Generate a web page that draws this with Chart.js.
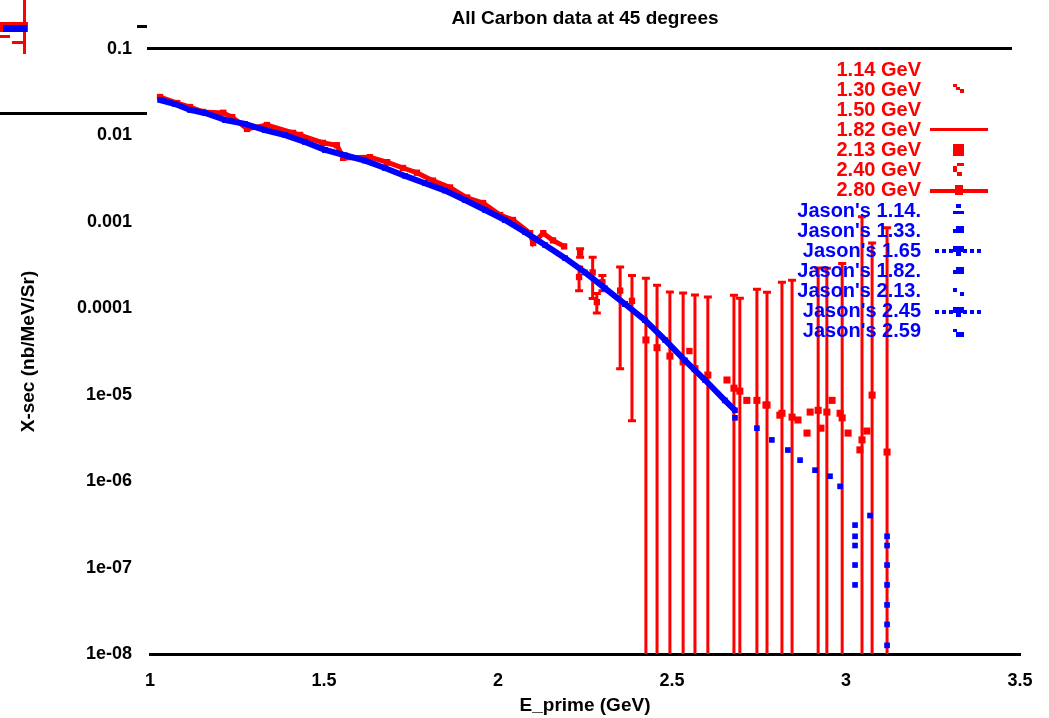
<!DOCTYPE html>
<html>
<head>
<meta charset="utf-8">
<script src="https://cdn.jsdelivr.net/npm/chart.js@4.4.0/dist/chart.umd.min.js"></script>
<style>
  body { margin: 0; background: #fff; }
  #wrap { position: relative; width: 1049px; height: 718px; }
</style>
</head>
<body>
<div id="wrap"><canvas id="xsecChart"></canvas></div>
<script>
// axis ticks
var xTicks = [1, 1.5, 2, 2.5, 3, 3.5];
var xTickLabels = ['1', '1.5', '2', '2.5', '3', '3.5'];
var yTicks = [1e-8, 1e-7, 1e-6, 1e-5, 1e-4, 1e-3, 1e-2, 1e-1];
var yTickLabels = ['1e-08', '1e-07', '1e-06', '1e-05', '0.0001', '0.001', '0.01', '0.1'];

// red: carbon data (E_prime in GeV, x-sec, error)
var r114X = [1.029, 1.078, 1.115, 1.152, 1.210];
var r114Y = [0.0278, 0.0237, 0.0213, 0.0187, 0.0182];
var r130X = [1.210, 1.236, 1.279, 1.336, 1.411, 1.431];
var r130Y = [0.0182, 0.0163, 0.0119, 0.0132, 0.0107, 0.0101];
var r150X = [1.431, 1.497, 1.537, 1.555, 1.632, 1.681];
var r150Y = [0.0101, 0.0082, 0.0077, 0.0055, 0.0056, 0.0049];
var r182X = [1.681, 1.727, 1.767, 1.813, 1.862, 1.911];
var r182Y = [0.0049, 0.0042, 0.0037, 0.0030, 0.0025, 0.0019];
var r213X = [1.911, 1.957, 2.006, 2.043, 2.092, 2.101, 2.130, 2.158, 2.190];
var r213Y = [0.0019, 0.00165, 0.0012, 0.00105, 7.4e-4, 5.7e-4, 7.4e-4, 6.1e-4, 5.2e-4];
var r240X = [2.233, 2.236, 2.272, 2.284, 2.300, 2.351, 2.385, 2.550];
var r240Y = [2.3e-4, 4.4e-4, 2.6e-4, 1.18e-4, 2.0e-4, 1.6e-4, 1.22e-4, 3.2e-5];
var r240Err = [7e-5, 5e-5, 1.3e-4, 3e-5, 4e-5, 1.4e-4, 1.17e-4, 0];
var r280X = [2.425, 2.457, 2.494, 2.532, 2.566, 2.603, 2.678, 2.695, 2.744, 2.773, 2.816, 2.845,
             2.920, 2.945, 2.989, 3.046, 3.075, 3.118,
             2.658, 2.715, 2.770, 2.810, 2.862, 2.897, 2.888, 2.928, 2.960, 2.983, 3.006, 3.040, 3.060];
var r280Y = [4.3e-5, 3.5e-5, 2.8e-5, 2.4e-5, 2.0e-5, 1.69e-5, 1.19e-5, 1.1e-5, 8.6e-6, 7.6e-6, 6.1e-6, 5.5e-6,
             6.6e-6, 6.3e-6, 5.4e-6, 3.0e-6, 9.9e-6, 2.17e-6,
             1.48e-5, 8.6e-6, 7.6e-6, 5.8e-6, 5.1e-6, 6.3e-6, 3.6e-6, 4.1e-6, 8.6e-6, 6.1e-6, 3.6e-6, 2.3e-6, 3.8e-6];
var r280Err = [1.8e-4, 1.5e-4, 1.26e-4, 1.26e-4, 1.22e-4, 1.18e-4, 1.3e-4, 1.2e-4, 1.58e-4, 1.46e-4, 1.94e-4, 2.05e-4,
               2.85e-4, 2.85e-4, 3.25e-4, 1.14e-3, 5.6e-4, 8.5e-4,
               0, 0, 0, 0, 0, 0, 0, 0, 0, 0, 0, 0, 0];

// blue: Jason's numbers
var b114X = [1.029, 1.072, 1.115, 1.158, 1.216];
var b114Y = [0.0257, 0.0231, 0.0197, 0.0182, 0.0151];
var b133X = [1.216, 1.273, 1.330, 1.388, 1.445, 1.503];
var b133Y = [0.0151, 0.0136, 0.0115, 0.0101, 0.0084, 0.0068];
var b165X = [1.503, 1.560, 1.618, 1.675, 1.733, 1.790];
var b165Y = [0.0068, 0.0059, 0.0051, 0.0042, 0.0034, 0.0028];
var b182X = [1.790, 1.848, 1.905, 1.963, 2.020];
var b182Y = [0.0028, 0.0023, 0.00179, 0.00137, 0.00105];
var b213X = [2.020, 2.078, 2.135, 2.193, 2.250, 2.307, 2.365];
var b213Y = [0.00105, 7.6e-4, 5.4e-4, 3.8e-4, 2.6e-4, 1.71e-4, 1.12e-4];
var b245X = [2.365, 2.422, 2.480, 2.537, 2.595, 2.652, 2.681];
var b245Y = [1.12e-4, 7.3e-5, 4.3e-5, 2.5e-5, 1.48e-5, 8.6e-6, 6.6e-6];
var b259X = [2.681, 2.744, 2.787, 2.833, 2.868, 2.911, 2.954, 2.983,
             3.026, 3.026, 3.026, 3.026, 3.026, 3.069,
             3.118, 3.118, 3.118, 3.118, 3.118, 3.118, 3.118];
var b259Y = [5.4e-6, 4.1e-6, 3.0e-6, 2.29e-6, 1.75e-6, 1.34e-6, 1.14e-6, 8.7e-7,
             3.1e-7, 2.3e-7, 1.8e-7, 1.07e-7, 6.3e-8, 4.0e-7,
             2.3e-7, 1.8e-7, 1.07e-7, 6.3e-8, 3.7e-8, 2.2e-8, 1.26e-8];

var RED = 'rgb(255, 0, 0)';
var BLUE = 'rgb(0, 0, 255)';

function pts(xs, ys) {
    return xs.map(function(x, i) { return { x: x, y: ys[i] }; });
}

function redSet(label, xs, ys, opts) {
    return Object.assign({
        label: label, data: pts(xs, ys), order: 2,
        borderColor: RED, backgroundColor: RED,
        pointStyle: 'rect', pointRadius: 4.5, pointBorderWidth: 0,
        showLine: true, borderWidth: 5
    }, opts || {});
}

function blueSet(label, xs, ys, opts) {
    return Object.assign({
        label: label, data: pts(xs, ys), order: 1,
        borderColor: BLUE, backgroundColor: BLUE,
        pointStyle: 'rect', pointRadius: 4, pointBorderWidth: 0,
        showLine: true, borderWidth: 6
    }, opts || {});
}

var datasets = [
    redSet('1.14 GeV', r114X, r114Y, { sample: 'none' }),
    redSet('1.30 GeV', r130X, r130Y, { sample: 'tick' }),
    redSet('1.50 GeV', r150X, r150Y, { sample: 'none' }),
    redSet('1.82 GeV', r182X, r182Y, { sample: 'line' }),
    redSet('2.13 GeV', r213X, r213Y, { sample: 'box' }),
    redSet('2.40 GeV', r240X, r240Y, { sample: 'hook', showLine: false, errors: r240Err }),
    redSet('2.80 GeV', r280X, r280Y, { sample: 'linebox', showLine: false, pointRadius: 5, errors: r280Err }),
    blueSet("Jason's 1.14.", b114X, b114Y, { sample: 'mark' }),
    blueSet("Jason's 1.33.", b133X, b133Y, { sample: 'blob' }),
    blueSet("Jason's 1.65", b165X, b165Y, { sample: 'dotline' }),
    blueSet("Jason's 1.82.", b182X, b182Y, { sample: 'blob' }),
    blueSet("Jason's 2.13.", b213X, b213Y, { sample: 'pair' }),
    blueSet("Jason's 2.45", b245X, b245Y, { sample: 'dotline' }),
    blueSet("Jason's 2.59", b259X, b259Y, { sample: 'small', showLine: false, pointRadius: 4 })
];

// vertical error bars, drawn under the points
var errorBars = {
    id: 'errorBars',
    beforeDatasetsDraw: function(chart) {
        var ctx = chart.ctx, area = chart.chartArea;
        var xs = chart.scales.x, ys = chart.scales.y;
        ctx.save();
        ctx.beginPath();
        ctx.rect(area.left, area.top, area.right - area.left, area.bottom - area.top);
        ctx.clip();
        chart.data.datasets.forEach(function(ds) {
            if (!ds.errors) return;
            ctx.strokeStyle = ds.borderColor;
            ctx.lineWidth = 3;
            ds.data.forEach(function(p, j) {
                var e = ds.errors[j];
                if (!e) return;
                var x = xs.getPixelForValue(p.x);
                var top = ys.getPixelForValue(p.y + e);
                var low = p.y - e;
                var bot = low > 0 ? ys.getPixelForValue(low) : area.bottom + 10;
                ctx.beginPath();
                ctx.moveTo(x, top); ctx.lineTo(x, bot);
                ctx.moveTo(x - 4, top); ctx.lineTo(x + 4, top);
                if (low > 0) { ctx.moveTo(x - 4, bot); ctx.lineTo(x + 4, bot); }
                ctx.stroke();
            });
        });
        ctx.restore();
    }
};

function drawSample(ctx, kind, cx, cy, color) {
    ctx.fillStyle = color;
    if (kind === 'tick') {
        ctx.fillRect(cx - 6, cy - 5, 4, 3); ctx.fillRect(cx - 3, cy - 2, 4, 3); ctx.fillRect(cx + 1, cy, 4, 4);
    } else if (kind === 'line') {
        ctx.fillRect(cx - 29, cy - 1, 58, 3);
    } else if (kind === 'box') {
        ctx.fillRect(cx - 6, cy - 6, 11, 12);
    } else if (kind === 'hook') {
        ctx.fillRect(cx - 2, cy - 7, 7, 3); ctx.fillRect(cx - 6, cy - 4, 4, 6); ctx.fillRect(cx - 2, cy + 2, 5, 4);
    } else if (kind === 'linebox') {
        ctx.fillRect(cx - 29, cy - 1, 58, 4); ctx.fillRect(cx - 4, cy - 5, 8, 10);
    } else if (kind === 'mark') {
        ctx.fillRect(cx - 3, cy - 6, 5, 4); ctx.fillRect(cx - 6, cy + 1, 11, 3);
    } else if (kind === 'blob') {
        ctx.fillRect(cx - 6, cy - 1, 11, 4); ctx.fillRect(cx - 3, cy - 4, 8, 4);
    } else if (kind === 'dotline') {
        for (var k = -22; k <= 22; k += 7) ctx.fillRect(cx + k - 2, cy - 1, 4, 4);
        ctx.fillRect(cx - 6, cy - 4, 11, 6); ctx.fillRect(cx - 3, cy + 2, 5, 4);
    } else if (kind === 'pair') {
        ctx.fillRect(cx - 6, cy - 3, 4, 4); ctx.fillRect(cx + 1, cy + 1, 4, 4);
    } else if (kind === 'small') {
        ctx.fillRect(cx - 6, cy - 2, 4, 3); ctx.fillRect(cx - 3, cy + 1, 8, 5);
    }
}

// key in the top right corner, text right-aligned with the sample after it
var keyBox = {
    id: 'keyBox',
    afterDraw: function(chart) {
        var ctx = chart.ctx;
        ctx.save();
        ctx.font = 'bold 20px "Liberation Sans", Arial, sans-serif';
        ctx.textAlign = 'right';
        ctx.textBaseline = 'middle';
        chart.data.datasets.forEach(function(ds, i) {
            var y = 69 + i * 20.15;
            ctx.fillStyle = ds.borderColor;
            ctx.fillText(ds.label, 921, y + 1);
            drawSample(ctx, ds.sample, 959, Math.round(y), ds.borderColor);
        });
        ctx.restore();
    }
};

// frame line along the top and the stray marks of the original plot
var frame = {
    id: 'frame',
    afterDraw: function(chart) {
        var ctx = chart.ctx, area = chart.chartArea;
        ctx.save();
        ctx.fillStyle = '#000';
        ctx.fillRect(area.left - 3, area.top - 2, 1012 - area.left + 3, 3);
        ctx.fillRect(0, 112, 147, 3);
        ctx.fillRect(137, 25, 10, 3);
        ctx.fillStyle = RED;
        ctx.fillRect(23, 0, 3, 54);
        ctx.fillRect(0, 22, 28, 10);
        ctx.fillRect(0, 35, 10, 3);
        ctx.fillRect(12, 41, 13, 3);
        ctx.fillStyle = BLUE;
        ctx.fillRect(3, 25, 24, 7);
        ctx.restore();
    }
};

var ctx = document.getElementById('xsecChart').getContext('2d');
var xsecChart = new Chart(ctx, {
    type: 'scatter',
    data: { datasets: datasets },
    options: {
        responsive: true,
        maintainAspectRatio: false,
        animation: false,
        layout: { padding: { left: 0, right: 29, top: 0, bottom: 0 } },
        plugins: {
            legend: { display: false },
            tooltip: { enabled: false },
            title: {
                display: true,
                fullSize: false,
                text: 'All Carbon data at 45 degrees',
                color: '#000',
                font: { family: '"Liberation Sans", Arial, sans-serif', size: 19, weight: 'bold' },
                padding: { top: 7, bottom: 19.2 }
            }
        },
        scales: {
            x: {
                type: 'linear',
                min: 1,
                max: 3.5,
                afterBuildTicks: function(scale) {
                    scale.ticks = xTicks.map(function(v) { return { value: v }; });
                },
                afterFit: function(scale) { scale.height = 64; },
                grid: { display: false, drawTicks: false },
                border: { display: true, color: '#000', width: 3 },
                ticks: {
                    color: '#000',
                    padding: 16,
                    maxRotation: 0,
                    autoSkip: false,
                    font: { family: '"Liberation Sans", Arial, sans-serif', size: 18, weight: 'bold' },
                    callback: function(value, index) { return xTickLabels[index]; }
                },
                title: {
                    display: true,
                    text: 'E_prime (GeV)',
                    color: '#000',
                    font: { family: '"Liberation Sans", Arial, sans-serif', size: 19, weight: 'bold' },
                    padding: { top: 0, bottom: 1 }
                }
            },
            y: {
                type: 'logarithmic',
                min: 1e-8,
                max: 0.1,
                afterBuildTicks: function(scale) {
                    scale.ticks = yTicks.map(function(v) { return { value: v }; });
                },
                afterFit: function(scale) { scale.width = 150; },
                grid: { display: false, drawTicks: false },
                border: { display: false },
                ticks: {
                    color: '#000',
                    padding: 18,
                    autoSkip: false,
                    font: { family: '"Liberation Sans", Arial, sans-serif', size: 18, weight: 'bold' },
                    callback: function(value, index) { return yTickLabels[index]; }
                },
                title: {
                    display: true,
                    text: 'X-sec (nb/MeV/Sr)',
                    color: '#000',
                    font: { family: '"Liberation Sans", Arial, sans-serif', size: 19, weight: 'bold' },
                    padding: { top: 17, bottom: 0 }
                }
            }
        }
    },
    plugins: [errorBars, keyBox, frame]
});
</script>
</body>
</html>
